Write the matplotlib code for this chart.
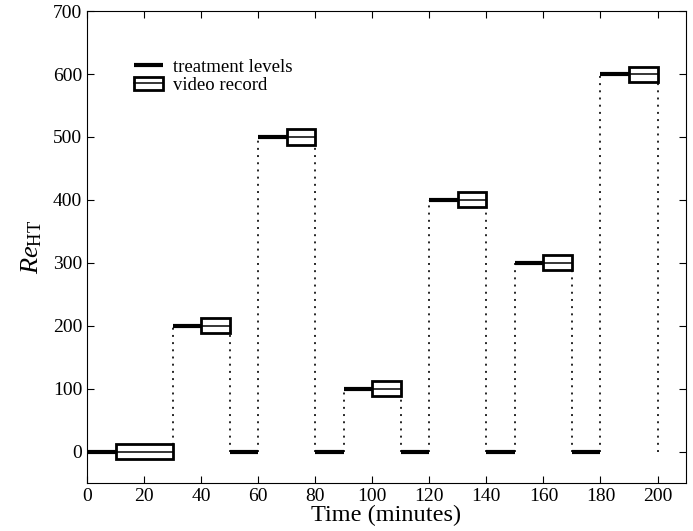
import matplotlib
matplotlib.use('Agg')
import matplotlib.pyplot as plt
from matplotlib.lines import Line2D
from matplotlib.patches import Rectangle
from matplotlib.legend_handler import HandlerTuple

plt.rcParams['font.family'] = ['Liberation Serif', 'DejaVu Serif']
plt.rcParams['mathtext.fontset'] = 'custom'
plt.rcParams['mathtext.rm'] = 'Liberation Serif'
plt.rcParams['mathtext.it'] = 'Liberation Serif:italic'

# treatment levels: (start, end, Re_HT)
level_start = [0, 30, 50, 60, 80, 90, 110, 120, 140, 150, 170, 180]
level_end = [30, 50, 60, 80, 90, 110, 120, 140, 150, 170, 180, 200]
level_re = [0, 200, 0, 500, 0, 100, 0, 400, 0, 300, 0, 600]

# video record windows
video_start = [10, 40, 70, 100, 130, 160, 190]
video_end = [30, 50, 80, 110, 140, 170, 200]
video_re = [0, 200, 500, 100, 400, 300, 600]

# dotted transitions: x, top value
trans_x = [30, 50, 60, 80, 90, 110, 120, 140, 150, 170, 180, 200]
trans_top = [200, 200, 500, 500, 100, 100, 400, 400, 300, 300, 600, 600]

box_half = 12

fig = plt.figure(figsize=(6.93, 5.31), dpi=100)
ax = fig.add_axes([0.1255, 0.0904, 0.8645, 0.8886])

for x, top in zip(trans_x, trans_top):
    ax.plot([x, x], [0, top], color='0.15', lw=1.4, linestyle=(0, (1, 2.7)), zorder=1)

for s, e, r in zip(level_start, level_end, level_re):
    ax.plot([s, e], [r, r], color='black', lw=3, solid_capstyle='butt', zorder=2)

for s, e, r in zip(video_start, video_end, video_re):
    ax.add_patch(Rectangle((s, r - box_half), e - s, 2 * box_half, facecolor='white',
                           edgecolor='black', lw=2, zorder=3))
    ax.plot([s, e], [r, r], color='black', lw=1.1, zorder=4)

ax.set_xlim(0, 210)
ax.set_ylim(-50, 700)
ax.set_xticks(range(0, 201, 20))
ax.set_yticks(range(0, 701, 100))
ax.tick_params(direction='in', top=True, right=True, length=5, labelsize=14)
for sp in ax.spines.values():
    sp.set_linewidth(0.8)

ax.set_xlabel('Time (minutes)', fontsize=17.5, labelpad=0)
ax.set_ylabel(r'$Re_{\rm HT}$', fontsize=19, labelpad=6)

h_level = Line2D([], [], color='black', lw=3, solid_capstyle='butt')
h_box = Rectangle((0, 0), 1, 1, facecolor='white', edgecolor='black', lw=2)
h_mid = Line2D([], [], color='black', lw=1.1)
ax.legend([h_level, (h_box, h_mid)], ['treatment levels', 'video record'],
          handler_map={tuple: HandlerTuple(ndivide=1, pad=0)},
          loc='upper left', bbox_to_anchor=(0.05, 0.935), frameon=False,
          fontsize=13.5, handlelength=1.55, handletextpad=0.55, labelspacing=0.05)

fig.savefig('out.png', dpi=100)
